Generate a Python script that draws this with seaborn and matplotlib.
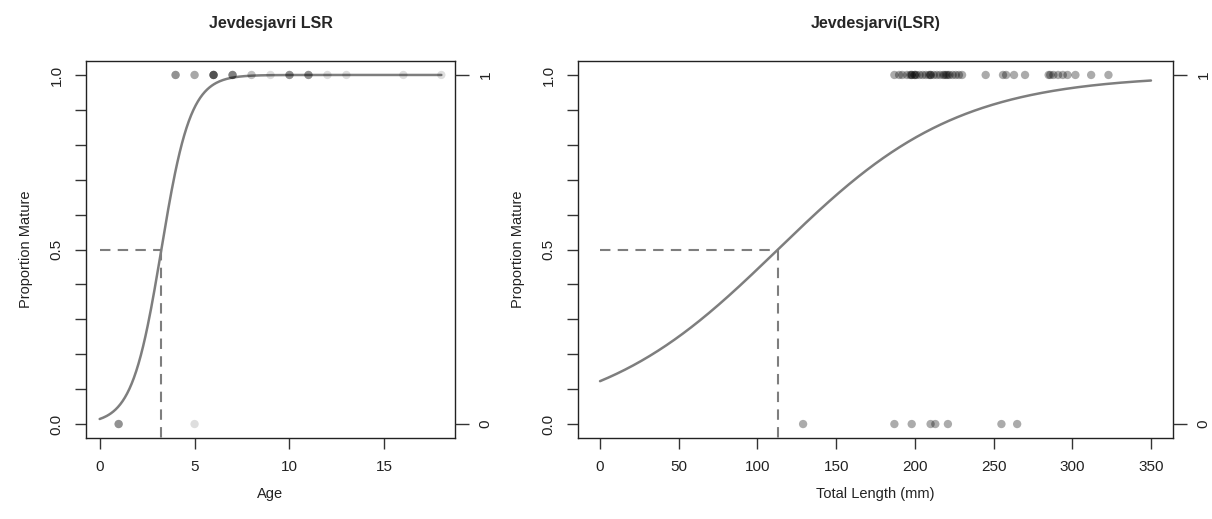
import numpy as np
import pandas as pd
import matplotlib
matplotlib.use("Agg")
import matplotlib.pyplot as plt
import seaborn as sns

sns.set_theme(style="white")
plt.rcParams['font.family'] = ['Liberation Sans', 'DejaVu Sans']

# ---- Left panel data: age vs maturity (0/1), with counts of overlapping fish
age_values = [1, 5, 4, 5, 6, 7, 8, 9, 10, 11, 12, 13, 16, 18]
age_mature = [0, 0, 1, 1, 1, 1, 1, 1, 1, 1, 1, 1, 1, 1]
age_counts = [4, 1, 4, 3, 8, 5, 2, 1, 4, 4, 1, 1, 1, 1]
# fitted logistic
age_a50 = 3.25
age_slope = 1.3

# ---- Right panel data: total length (mm) vs maturity
len_mature_mm = [187, 190, 192, 195, 197, 198, 198, 200, 200, 201, 203, 205, 207,
                 209, 210, 210, 212, 214, 216, 218, 219, 220, 221, 222, 224, 226,
                 228, 230, 245, 256, 258, 263, 270, 285, 286, 288, 291, 294, 297,
                 302, 312, 323]
len_immature_mm = [129, 187, 198, 210, 213, 221, 255, 265]
len_l50 = 113
len_slope = 0.0174

age_ticks = [0, 5, 10, 15]
len_ticks = [0, 50, 100, 150, 200, 250, 300, 350]

gray = "#7e7e7e"

df_age = pd.DataFrame({"x": np.repeat(age_values, age_counts),
                       "y": np.repeat(age_mature, age_counts)})
df_len = pd.DataFrame({"x": len_mature_mm + len_immature_mm,
                       "y": [1] * len(len_mature_mm) + [0] * len(len_immature_mm)})

fig = plt.figure(figsize=(12.12, 5.19), dpi=100)
ax1 = fig.add_axes([86 / 1212, 1 - 438 / 519, 369 / 1212, 377 / 519])
ax2 = fig.add_axes([578 / 1212, 1 - 438 / 519, 595 / 1212, 377 / 519])


def style_axes(ax, xlim, xticks, xlabel, title):
    ax.set_xlim(*xlim)
    ax.set_ylim(-0.04, 1.04)
    yt = np.round(np.arange(0, 1.01, 0.1), 1)
    ax.set_yticks(yt)
    ax.set_yticklabels(["0.0" if v == 0 else "0.5" if v == 0.5 else "1.0" if v == 1 else "" for v in yt],
                       rotation=90, va="center")
    ax.set_xticks(xticks)
    ax.set_xticklabels([str(t) for t in xticks])
    ax.tick_params(axis="both", direction="out", length=8, width=1, color="#333333",
                   labelsize=11, labelcolor="#222222", pad=8, left=True, bottom=True)
    for s in ax.spines.values():
        s.set_color("#222222")
        s.set_linewidth(1.0)
    ax.set_xlabel(xlabel, fontsize=10.5, color="#222222", labelpad=9)
    ax.set_ylabel("Proportion Mature", fontsize=10.5, color="#222222", labelpad=12)
    ax.set_title(title, fontsize=11.5, fontweight="bold", pad=24)
    # right axis with 0/1
    ax_r = ax.twinx()
    ax_r.set_ylim(-0.04, 1.04)
    ax_r.set_yticks([0, 1])
    ax_r.set_yticklabels(["0", "1"], rotation=90, va="center")
    ax_r.tick_params(axis="y", direction="out", length=10, width=1, color="#333333",
                     labelsize=11, labelcolor="#222222", pad=7, right=True)
    for s in ax_r.spines.values():
        s.set_visible(False)
    ax_r.grid(False)


# Left panel
sns.scatterplot(data=df_age, x="x", y="y", ax=ax1, color="black", alpha=0.13,
                s=36, edgecolor="none", legend=False, zorder=3)
xa = np.linspace(0, 18, 300)
pa = 1 / (1 + np.exp(-age_slope * (xa - age_a50)))
sns.lineplot(x=xa, y=pa, ax=ax1, color=gray, linewidth=1.8, zorder=2)
ax1.plot([0, age_a50], [0.5, 0.5], color=gray, linewidth=1.5, dashes=(5, 3.5))
ax1.plot([age_a50, age_a50], [0.5, -0.04], color=gray, linewidth=1.5, dashes=(5, 3.5))
style_axes(ax1, (-0.72, 18.72), age_ticks, "Age", "Jevdesjavri LSR")

# Right panel
sns.scatterplot(data=df_len, x="x", y="y", ax=ax2, color="black", alpha=0.33,
                s=36, edgecolor="none", legend=False, zorder=3)
xl = np.linspace(0, 350, 400)
pl = 1 / (1 + np.exp(-len_slope * (xl - len_l50)))
sns.lineplot(x=xl, y=pl, ax=ax2, color=gray, linewidth=1.8, zorder=2)
ax2.plot([0, len_l50], [0.5, 0.5], color=gray, linewidth=1.5, dashes=(5, 3.5))
ax2.plot([len_l50, len_l50], [0.5, -0.04], color=gray, linewidth=1.5, dashes=(5, 3.5))
style_axes(ax2, (-14, 364), len_ticks, "Total Length (mm)", "Jevdesjarvi(LSR)")

fig.savefig("out.png", dpi=100, facecolor="white")
